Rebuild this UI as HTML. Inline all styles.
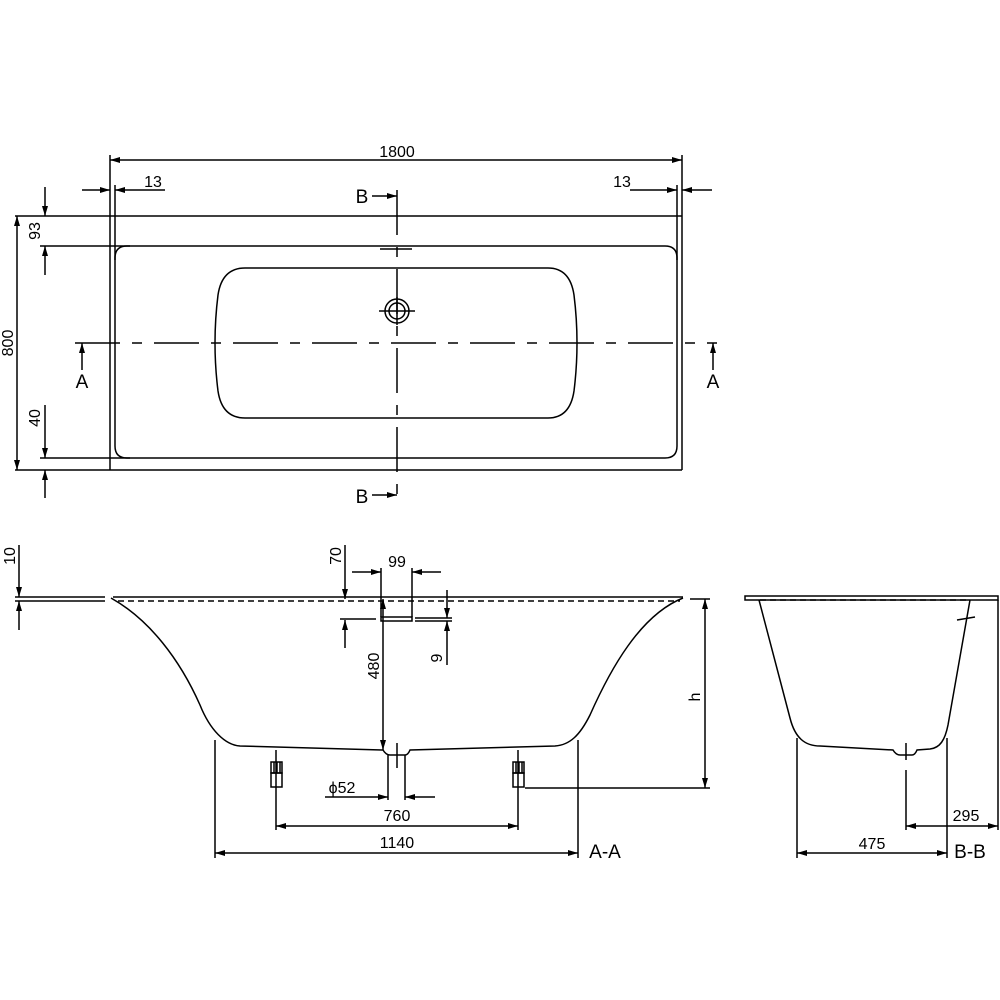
<!DOCTYPE html>
<html><head><meta charset="utf-8"><style>html,body{margin:0;padding:0;background:#fff}svg{display:block}text{font-family:"Liberation Sans",sans-serif;font-size:16px;fill:#000}</style></head><body>
<svg width="1000" height="1000" viewBox="0 0 1000 1000" xmlns="http://www.w3.org/2000/svg">
<defs>
<marker id="a" viewBox="0 0 10 6" refX="10" refY="3" markerWidth="10" markerHeight="6" orient="auto-start-reverse" markerUnits="userSpaceOnUse"><path d="M0,0 L10,3 L0,6 Z" fill="#000"/></marker>
</defs>
<g stroke="#000" stroke-width="1.5" fill="none">
<!-- TOP VIEW -->
<line x1="110" y1="155" x2="110" y2="470"/>
<line x1="682" y1="155" x2="682" y2="470"/>
<line x1="115" y1="185" x2="115" y2="260"/>
<line x1="677" y1="185" x2="677" y2="260"/>
<line x1="110" y1="160" x2="682" y2="160" marker-start="url(#a)" marker-end="url(#a)"/>
<line x1="15" y1="216" x2="682" y2="216"/>
<line x1="40" y1="246" x2="130" y2="246"/>
<line x1="40" y1="458" x2="130" y2="458"/>
<line x1="15" y1="470" x2="682" y2="470"/>
<path d="M127,246 H665 Q677,246 677,258 V446 Q677,458 665,458 H127 Q115,458 115,446 V258 Q115,246 127,246 Z"/>
<path d="M245,268 H548 Q570,268 574,295 Q580,343 574,391 Q570,418 548,418 H245 Q222,418 218,391 Q212,343 218,295 Q222,268 245,268 Z"/>
<!-- 13 dims -->
<line x1="82" y1="190" x2="110" y2="190" marker-end="url(#a)"/>
<line x1="165" y1="190" x2="115" y2="190" marker-end="url(#a)"/>
<line x1="630" y1="190" x2="677" y2="190" marker-end="url(#a)"/>
<line x1="712" y1="190" x2="682" y2="190" marker-end="url(#a)"/>
<!-- 800 -->
<line x1="17" y1="216" x2="17" y2="470" marker-start="url(#a)" marker-end="url(#a)"/>
<!-- 93 -->
<line x1="45" y1="187" x2="45" y2="216" marker-end="url(#a)"/>
<line x1="45" y1="275" x2="45" y2="246" marker-end="url(#a)"/>
<!-- 40 -->
<line x1="45" y1="405" x2="45" y2="458" marker-end="url(#a)"/>
<line x1="45" y1="498" x2="45" y2="470" marker-end="url(#a)"/>
<!-- center lines -->
<line x1="75" y1="343" x2="717" y2="343" stroke-dasharray="45,12,10,12"/>
<line x1="397" y1="190" x2="397" y2="500" stroke-dasharray="45,12,10,12"/>
<line x1="380" y1="249" x2="412" y2="249"/>
<circle cx="397" cy="311" r="12"/>
<circle cx="397" cy="311" r="8"/>
<line x1="379" y1="311" x2="415" y2="311"/>
<line x1="397" y1="297" x2="397" y2="325"/>
<!-- section arrows -->
<line x1="372" y1="196" x2="397" y2="196" marker-end="url(#a)"/>
<line x1="372" y1="495" x2="397" y2="495" marker-end="url(#a)"/>
<line x1="82" y1="370" x2="82" y2="343" marker-end="url(#a)"/>
<line x1="713" y1="370" x2="713" y2="343" marker-end="url(#a)"/>

<!-- SECTION A-A -->
<line x1="15" y1="597" x2="105" y2="597"/>
<line x1="15" y1="601" x2="105" y2="601"/>
<line x1="113" y1="597" x2="683" y2="597"/>
<line x1="118" y1="601" x2="680" y2="601" stroke-dasharray="6,4"/>
<path d="M111,598 C150,620 180,660 200,705 C210,730 225,745 240,746 L383,750 Q386,755 390,755 L405,755 Q408,755 410,750 L555,746 C570,745 580,735 590,715 C610,670 640,615 683,598"/>
<line x1="19" y1="545" x2="19" y2="597" marker-end="url(#a)"/>
<line x1="19" y1="630" x2="19" y2="601" marker-end="url(#a)"/>
<!-- 70 / 99 / 9 -->
<line x1="345" y1="545" x2="345" y2="599" marker-end="url(#a)"/>
<line x1="345" y1="648" x2="345" y2="620" marker-end="url(#a)"/>
<line x1="340" y1="619" x2="376" y2="619"/>
<rect x="381" y="617" width="31" height="4"/>
<line x1="415" y1="618" x2="452" y2="618"/>
<line x1="415" y1="621" x2="452" y2="621"/>
<line x1="381" y1="568" x2="381" y2="617"/>
<line x1="412" y1="568" x2="412" y2="617"/>
<line x1="352" y1="572" x2="381" y2="572" marker-end="url(#a)"/>
<line x1="441" y1="572" x2="412" y2="572" marker-end="url(#a)"/>
<line x1="447" y1="590" x2="447" y2="618" marker-end="url(#a)"/>
<line x1="447" y1="665" x2="447" y2="621" marker-end="url(#a)"/>
<!-- 480 -->
<line x1="383" y1="599" x2="383" y2="750" marker-start="url(#a)" marker-end="url(#a)"/>
<!-- drain phi52 -->
<line x1="397" y1="743" x2="397" y2="768"/>
<line x1="388" y1="755" x2="388" y2="800"/>
<line x1="405" y1="755" x2="405" y2="800"/>
<line x1="325" y1="797" x2="388" y2="797" marker-end="url(#a)"/>
<line x1="435" y1="797" x2="405" y2="797" marker-end="url(#a)"/>
<!-- feet -->
<rect x="271" y="762" width="11" height="11"/>
<rect x="271" y="773" width="11" height="14"/>
<line x1="274" y1="762" x2="274" y2="773"/><line x1="277" y1="762" x2="277" y2="773"/><line x1="280" y1="762" x2="280" y2="773"/>
<rect x="513" y="762" width="11" height="11"/>
<rect x="513" y="773" width="11" height="14"/>
<line x1="516" y1="762" x2="516" y2="773"/><line x1="519" y1="762" x2="519" y2="773"/><line x1="522" y1="762" x2="522" y2="773"/>
<line x1="276" y1="750" x2="276" y2="830"/>
<line x1="518" y1="750" x2="518" y2="830"/>
<line x1="276" y1="826" x2="518" y2="826" marker-start="url(#a)" marker-end="url(#a)"/>
<line x1="215" y1="740" x2="215" y2="858"/>
<line x1="578" y1="740" x2="578" y2="858"/>
<line x1="215" y1="853" x2="578" y2="853" marker-start="url(#a)" marker-end="url(#a)"/>
<!-- h -->
<line x1="690" y1="599" x2="710" y2="599"/>
<line x1="525" y1="788" x2="710" y2="788"/>
<line x1="705" y1="599" x2="705" y2="788" marker-start="url(#a)" marker-end="url(#a)"/>

<!-- SECTION B-B -->
<rect x="745" y="596" width="253" height="4"/>
<line x1="760" y1="600" x2="970" y2="600" stroke-dasharray="6,4"/>
<path d="M759,600 L790,718 C795,738 805,746 820,746 L893,750 Q896,755 900,755 L912,755 Q915,755 917,750 L930,749 C940,748 945,740 948,725 L970,600"/>
<line x1="957" y1="620" x2="975" y2="617"/>
<line x1="906" y1="743" x2="906" y2="760"/>
<line x1="906" y1="770" x2="906" y2="830"/>
<line x1="797" y1="738" x2="797" y2="858"/>
<line x1="947" y1="738" x2="947" y2="858"/>
<line x1="998" y1="600" x2="998" y2="830"/>
<line x1="797" y1="853" x2="947" y2="853" marker-start="url(#a)" marker-end="url(#a)"/>
<line x1="906" y1="826" x2="998" y2="826" marker-start="url(#a)" marker-end="url(#a)"/>
</g>
<g>
<text x="397" y="157" text-anchor="middle">1800</text>
<text x="153" y="187" text-anchor="middle">13</text>
<text x="622" y="187" text-anchor="middle">13</text>
<text transform="translate(13,343) rotate(-90)" text-anchor="middle">800</text>
<text transform="translate(40,231) rotate(-90)" text-anchor="middle">93</text>
<text transform="translate(40,418) rotate(-90)" text-anchor="middle">40</text>
<text x="362" y="203" text-anchor="middle" font-size="19" style="font-size:19px">B</text>
<text x="362" y="503" text-anchor="middle" style="font-size:19px">B</text>
<text x="82" y="388" text-anchor="middle" style="font-size:19px">A</text>
<text x="713" y="388" text-anchor="middle" style="font-size:19px">A</text>
<text transform="translate(15,556) rotate(-90)" text-anchor="middle">10</text>
<text transform="translate(341,556) rotate(-90)" text-anchor="middle">70</text>
<text x="397" y="567" text-anchor="middle">99</text>
<text transform="translate(442,658) rotate(-90)" text-anchor="middle">9</text>
<text transform="translate(379,666) rotate(-90)" text-anchor="middle">480</text>
<text x="342" y="793" text-anchor="middle">ϕ52</text>
<text x="397" y="821" text-anchor="middle">760</text>
<text x="397" y="848" text-anchor="middle">1140</text>
<text x="605" y="858" text-anchor="middle" style="font-size:19px">A-A</text>
<text transform="translate(700,697) rotate(-90)" text-anchor="middle">h</text>
<text x="872" y="849" text-anchor="middle">475</text>
<text x="966" y="821" text-anchor="middle">295</text>
<text x="970" y="858" text-anchor="middle" style="font-size:19px">B-B</text>
</g>
</svg>
</body></html>
